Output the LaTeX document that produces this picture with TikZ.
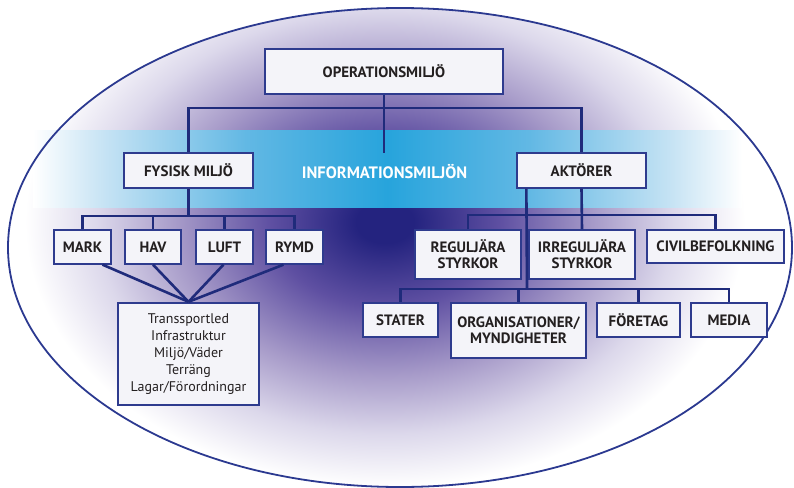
\documentclass[tikz,border=0pt]{standalone}
\usepackage{fontspec}
\setmainfont{PT Sans}
\usetikzlibrary{calc}

\definecolor{navy}{HTML}{1F2B7B}
\definecolor{boxline}{HTML}{2E3B8E}
\definecolor{boxfill}{HTML}{F4F4F9}
\definecolor{ink}{HTML}{231F20}
\definecolor{rim}{HTML}{2B3990}
\definecolor{bandblue}{HTML}{27A4DC}
\definecolor{bandmid}{HTML}{62B8E4}
\definecolor{bandlight}{HTML}{C6E3F4}
\definecolor{glowdark}{HTML}{24237F}
\definecolor{glowmid}{HTML}{5F50A2}
\definecolor{glowlight}{HTML}{A79BC9}
\definecolor{glowpale}{HTML}{DCD8EB}

% the path box covers the middle 50bp of a shading
\pgfdeclareradialshading{glow}{\pgfpoint{0bp}{0bp}}{color(0bp)=(glowdark); color(2bp)=(glowdark); color(8bp)=(glowmid); color(14.5bp)=(glowlight); color(20bp)=(glowpale); color(25bp)=(white); color(50bp)=(white)}
\pgfdeclarehorizontalshading{band}{100bp}{color(0bp)=(white); color(25bp)=(white); color(30bp)=(bandlight); color(40bp)=(bandmid); color(50bp)=(bandblue); color(60bp)=(bandmid); color(70bp)=(bandlight); color(75bp)=(white); color(100bp)=(white)}

\begin{document}
\begin{tikzpicture}[x=1pt, y=-1pt,
        box/.style={draw=boxline, fill=boxfill, line width=1.3pt, inner sep=0pt, align=center,
            text=ink, font=\bfseries\fontsize{15}{16}\selectfont},
        bigbox/.style={box, line width=2.4pt},
        link/.style={draw=navy, line width=2.6pt}]
        \useasboundingbox (0,0) rectangle (794,487);

        % background
        \begin{scope}
            \clip (400,247.5) ellipse [x radius=392, y radius=239.5];
            \shade[shading=glow] (385,222) ellipse [x radius=360, y radius=265];
        \end{scope}
        \shade[shading=band] (33,130) rectangle (742,207);
        \draw[rim, line width=1.8pt] (400,247.5) ellipse [x radius=392, y radius=239.5];

        \node[font=\bfseries\fontsize{16.5}{18}\selectfont, text=white] (info) at (384.5,172) {INFORMATIONSMILJÖN};

        % boxes
        \node[bigbox, minimum width=238pt, minimum height=45pt] (oper) at (384,71.5) {OPERATIONSMILJÖ};
        \node[box, minimum width=129pt, minimum height=35pt] (fys) at (188.5,170.5) {FYSISK MILJÖ};
        \node[box, minimum width=129pt, minimum height=35pt] (akt) at (581.5,170.5) {AKTÖRER};

        \node[box, minimum width=57pt, minimum height=34pt] (mark) at (82.5,247) {MARK};
        \node[box, minimum width=56pt, minimum height=34pt] (hav) at (153,247) {HAV};
        \node[box, minimum width=57pt, minimum height=34pt] (luft) at (224.5,247) {LUFT};
        \node[box, minimum width=57pt, minimum height=34pt] (rymd) at (294.5,247) {RYMD};
        \node[bigbox, minimum width=141pt, minimum height=102pt, font=\fontsize{14}{17}\selectfont] (lista) at (188.5,354)
            {Transsportled\\Infrastruktur\\Miljö/Väder\\Terräng\\Lagar/Förordningar};

        \node[box, minimum width=106pt, minimum height=49pt] (reg) at (468,254.5) {REGULJÄRA\\STYRKOR};
        \node[box, minimum width=106pt, minimum height=49pt] (irr) at (582,254.5) {IRREGULJÄRA\\STYRKOR};
        \node[box, minimum width=137pt, minimum height=33pt] (civ) at (715.5,246.5) {CIVILBEFOLKNING};

        \node[box, minimum width=75pt, minimum height=34pt] (stat) at (400.5,320) {STATER};
        \node[bigbox, minimum width=135pt, minimum height=55pt] (org) at (518.5,330.5) {ORGANISATIONER/\\MYNDIGHETER};
        \node[box, minimum width=83pt, minimum height=34pt] (fore) at (638.5,320) {FÖRETAG};
        \node[box, minimum width=76pt, minimum height=34pt] (media) at (729,320) {MEDIA};

        % connectors
        \coordinate (topbar) at (384,108);
        \coordinate (infotop) at (384,153);
        \coordinate (fysbar) at (188.5,216);
        \coordinate (aktbar) at (582,215);
        \coordinate (aktdrop) at (527,289);

        \draw[link] (oper.south) -- (infotop);
        \draw[link] (fys.north) |- (topbar) -| (akt.north);

        \draw[link] (fys.south) -- (fysbar);
        \draw[link] (mark.north) |- (fysbar) -| (rymd.north);
        \draw[link] (hav.north) -- (hav.north |- fysbar);
        \draw[link] (luft.north) -- (luft.north |- fysbar);
        \foreach \n/\dx in {mark/20, hav/0, luft/-1, rymd/-11}
            \draw[link] ([xshift=\dx pt]\n.south) -- (lista.north);

        \draw[link] (akt.south) -- (irr.north);
        \draw[link] (reg.north) |- (aktbar) -| (civ.north);
        \draw[link] ([xshift=10pt]akt.south west) -- (aktdrop);
        \draw[link] (stat.north) |- (aktdrop) -| (media.north);
        \draw[link] (org.north) -- (org.north |- aktdrop);
        \draw[link] (fore.north) -- (fore.north |- aktdrop);
    \end{tikzpicture}
\end{document}
